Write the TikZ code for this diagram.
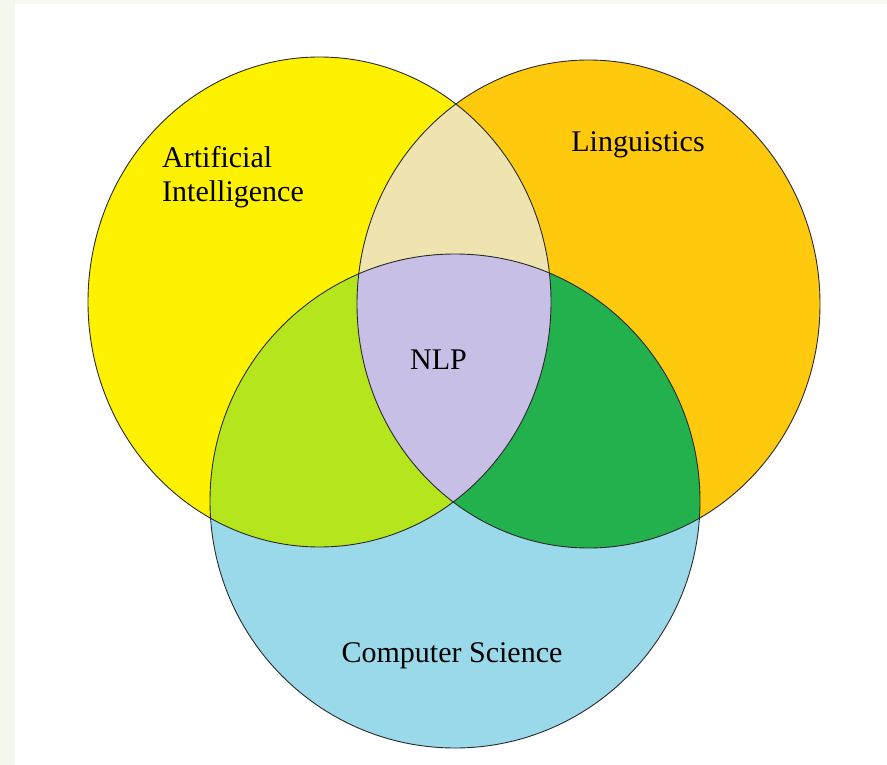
\documentclass[tikz,border=0pt]{standalone}
\usepackage{fontspec}
\setmainfont{Liberation Serif}
\definecolor{aiyellow}{HTML}{FFF200}
\definecolor{lingorange}{HTML}{FFC90E}
\definecolor{csblue}{HTML}{99D9EA}
\definecolor{beige}{HTML}{EFE4B0}
\definecolor{limegreen}{HTML}{B5E61D}
\definecolor{darkgreen}{HTML}{22B14C}
\definecolor{lavender}{HTML}{C8BFE7}
\definecolor{stripcol}{HTML}{F4F7EC}
\definecolor{edgecol}{HTML}{2A2A2A}
\begin{document}
\begin{tikzpicture}[x=1pt,y=-1pt,
  edge/.style={draw=edgecol,line width=0.9pt},
  lbl/.style={inner sep=0pt,font=\fontsize{30}{34}\selectfont}]
\useasboundingbox (0,0) rectangle (887,765);
\fill[white] (0,0) rectangle (887,765);
\fill[stripcol] (0,0) rectangle (15,765);
\fill[stripcol!60] (15,0) rectangle (887,4);
\def\aiE{(319.5,302) ellipse [x radius=231.5, y radius=245]}
\def\lgE{(588.5,304) ellipse [x radius=231.5, y radius=244]}
\def\csE{(455,501) ellipse [x radius=245, y radius=247]}
% base fills
\fill[aiyellow] \aiE;
\fill[lingorange] \lgE;
\fill[csblue] \csE;
% pairwise
\begin{scope}\clip \aiE; \fill[beige] \lgE; \end{scope}
\begin{scope}\clip \aiE; \fill[limegreen] \csE; \end{scope}
\begin{scope}\clip \lgE; \fill[darkgreen] \csE; \end{scope}
\begin{scope}\clip \aiE; \clip \lgE; \fill[lavender] \csE; \end{scope}
% outlines
\path[edge] \aiE;
\path[edge] \lgE;
\path[edge] \csE;
% labels
\node[lbl,anchor=base west,align=left] (ai) at (162,202) {Artificial\\Intelligence};
\node[lbl,anchor=base] (ling) at (638,152) {Linguistics};
\node[lbl,anchor=base] (nlp) at (438.5,369) {NLP};
\node[lbl,anchor=base] (cs) at (452,662) {Computer Science};
\end{tikzpicture}
\end{document}
